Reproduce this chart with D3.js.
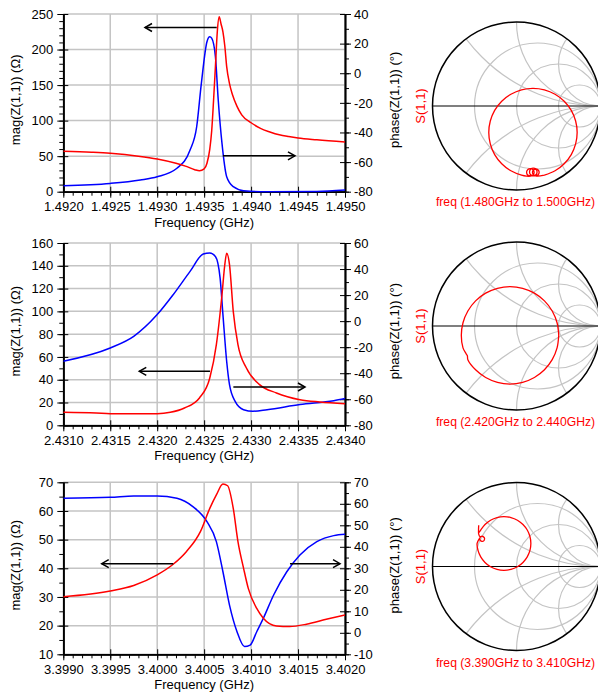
<!DOCTYPE html>
<html>
<head>
<meta charset="utf-8">
<script src="https://cdnjs.cloudflare.com/ajax/libs/d3/7.8.5/d3.min.js"></script>
<style>
  body { margin: 0; background: #fff; }
  svg { display: block; }
</style>
</head>
<body>
<svg id="chart" width="598" height="695"></svg>
<script>
// ---- top panel (1.492 - 1.495 GHz)
var topFreqTicks = [1.4920, 1.4925, 1.4930, 1.4935, 1.4940, 1.4945, 1.4950];
var topMagTicks = [0, 50, 100, 150, 200, 250];
var topPhaseTicks = [-80, -60, -40, -20, 0, 20, 40];
var topMagFreq = [1.4920, 1.4923, 1.4925, 1.4928, 1.4930, 1.4932, 1.4933, 1.4934, 1.49345, 1.4935, 1.49353, 1.49356, 1.49358, 1.4936, 1.49362, 1.49364, 1.49366, 1.49368, 1.4937, 1.49372, 1.49374, 1.49377, 1.4938, 1.49385, 1.4939, 1.4940, 1.4941, 1.4942, 1.4943, 1.4944, 1.4945, 1.4947, 1.4950];
var topMag = [57, 55.5, 54, 50, 46, 40, 36, 31, 29.5, 32, 40, 60, 85, 128, 176, 225, 246, 236, 225, 205, 176, 152, 137, 120, 108, 97, 89, 84, 80, 77.5, 75.5, 73, 70];
var topPhaseFreq = [1.4920, 1.4925, 1.49282, 1.4930, 1.49321, 1.49335, 1.49342, 1.49347, 1.49353, 1.49356, 1.49358, 1.49362, 1.49365, 1.49369, 1.49374, 1.49381, 1.49392, 1.49417, 1.4947, 1.4950];
var topPhase = [-76, -74.4, -72.1, -69.9, -64.2, -51.9, -36.3, -7, 21.3, 24.6, 23.7, 11.2, -18.1, -47.4, -69.9, -76.6, -79.3, -80, -79.8, -78.9];
var topArrows = [[1.493634, 231, 1.49287], [1.49370, 50.5, 1.494467]];
var topSmithRe = [0.332, 0.459, 0.568, 0.652, 0.704, 0.722, 0.704, 0.652, 0.568, 0.459, 0.332, 0.196, 0.060, -0.067, -0.176, -0.260, -0.312, -0.330, -0.312, -0.260, -0.176, -0.067, 0.060,
  0.12, 0.165, 0.197, 0.21, 0.197, 0.165, 0.133, 0.12, 0.133,
  0.20, 0.232, 0.245, 0.232, 0.20, 0.168, 0.155, 0.168,
  0.23, 0.258, 0.27, 0.258, 0.23, 0.202, 0.19, 0.202, 0.24, 0.332];
var topSmithIm = [-0.823, -0.771, -0.687, -0.578, -0.451, -0.315, -0.179, -0.052, 0.057, 0.140, 0.193, 0.211, 0.193, 0.140, 0.057, -0.052, -0.179, -0.315, -0.451, -0.578, -0.687, -0.771, -0.823,
  -0.835, -0.835, -0.822, -0.79, -0.758, -0.745, -0.758, -0.79, -0.822,
  -0.83, -0.817, -0.785, -0.753, -0.74, -0.753, -0.785, -0.817,
  -0.83, -0.818, -0.79, -0.762, -0.75, -0.762, -0.79, -0.818, -0.835, -0.823];
var topSweep = "freq (1.480GHz to 1.500GHz)";

// ---- middle panel (2.431 - 2.434 GHz)
var midFreqTicks = [2.4310, 2.4315, 2.4320, 2.4325, 2.4330, 2.4335, 2.4340];
var midMagTicks = [0, 20, 40, 60, 80, 100, 120, 140, 160];
var midPhaseTicks = [-80, -60, -40, -20, 0, 20, 40, 60];
var midMagFreq = [2.4310, 2.43135, 2.4315, 2.4320, 2.43214, 2.43229, 2.43245, 2.43256, 2.43263, 2.43269, 2.43272, 2.43274, 2.43277, 2.43281, 2.43286, 2.43295, 2.43309, 2.43327, 2.43352, 2.43373, 2.4340];
var midMag = [11.4, 10.8, 10.2, 10.2, 11.4, 15.2, 24, 41.5, 70.8, 114.6, 141, 151, 141, 100, 70.8, 50.3, 35.7, 28.4, 22.5, 20.5, 19];
var midPhaseFreq = [2.4310, 2.4315, 2.43175, 2.4320, 2.43217, 2.43235, 2.43249, 2.43256, 2.43262, 2.43267, 2.43270, 2.43274, 2.43277, 2.43283, 2.43292, 2.43302, 2.43317, 2.43352, 2.43388, 2.4340];
var midPhase = [-30.8, -20.6, -11.7, 5, 20.3, 38.2, 51.5, 52.3, 49.6, 33, 5, -31, -48.8, -61.6, -68, -69.2, -68, -64.1, -61.1, -59.5];
var midArrows = [[2.432562, 47.4, 2.431809], [2.432811, 33.6, 2.433574]];
var midSmithRe = [0.503, 0.483, 0.425, 0.333, 0.213, 0.073, -0.077, -0.227, -0.367, -0.487, -0.579, -0.637, -0.657, -0.637, -0.600, -0.585, -0.579, -0.487, -0.367, -0.227, -0.077, 0.073, 0.213, 0.333, 0.425, 0.483, 0.503];
var midSmithIm = [-0.111, 0.039, 0.179, 0.299, 0.391, 0.449, 0.469, 0.449, 0.391, 0.299, 0.179, 0.039, -0.111, -0.261, -0.330, -0.355, -0.401, -0.521, -0.613, -0.671, -0.691, -0.671, -0.613, -0.521, -0.401, -0.261, -0.111];
var midSweep = "freq (2.420GHz to 2.440GHz)";

// ---- bottom panel (3.399 - 3.402 GHz)
var botFreqTicks = [3.3990, 3.3995, 3.4000, 3.4005, 3.4010, 3.4015, 3.4020];
var botMagTicks = [10, 20, 30, 40, 50, 60, 70];
var botPhaseTicks = [-10, 0, 10, 20, 30, 40, 50, 60, 70];
var botMagFreq = [3.3990, 3.3995, 3.39975, 3.4000, 3.40017, 3.40031, 3.40046, 3.40056, 3.40063, 3.40070, 3.40075, 3.40081, 3.40086, 3.40092, 3.40097, 3.40106, 3.40113, 3.40127, 3.40141, 3.40159, 3.40180, 3.4020];
var botMag = [30.1, 32.1, 34, 37.7, 41.4, 45.8, 52.8, 60.9, 65.6, 69.4, 68.8, 60.9, 49.3, 40, 33, 26, 22.6, 19.9, 19.7, 20.5, 22.2, 23.7];
var botPhaseFreq = [3.3990, 3.3995, 3.39975, 3.4000, 3.40021, 3.40038, 3.40053, 3.40063, 3.40070, 3.40077, 3.40085, 3.40093, 3.40099, 3.40106, 3.40113, 3.40124, 3.40138, 3.40152, 3.40170, 3.40188, 3.4020];
var botPhase = [62.6, 63, 63.6, 63.6, 62.6, 58.7, 51.7, 42.4, 28.4, 12.9, 0.5, -6.4, -5.7, 0.5, 6.7, 17.6, 28.4, 36.2, 42.4, 45.2, 45.8];
var botArrows = [[3.400171, 41.6, 3.399409], [3.401414, 41.6, 3.401947]];
var botSmithRe = [-0.450, -0.452, -0.450, -0.435, -0.410, -0.385, -0.380, -0.390, -0.410, -0.430, -0.440, -0.430, -0.469, -0.458, -0.426, -0.375, -0.309, -0.232, -0.149, -0.066, 0.011, 0.077, 0.128, 0.160, 0.171, 0.160, 0.128, 0.077, 0.011, -0.066, -0.149, -0.232, -0.309, -0.375, -0.426, -0.445];
var botSmithIm = [0.490, 0.430, 0.385, 0.355, 0.360, 0.345, 0.330, 0.305, 0.300, 0.310, 0.330, 0.350, 0.274, 0.191, 0.114, 0.048, -0.003, -0.035, -0.046, -0.035, -0.003, 0.048, 0.114, 0.191, 0.274, 0.357, 0.434, 0.500, 0.551, 0.583, 0.594, 0.583, 0.551, 0.500, 0.434, 0.405];
var botSweep = "freq (3.390GHz to 3.410GHz)";

// Smith chart grid: resistance circles and reactance arcs
var smithR = [1 / 3, 1, 3];
var smithX = [0.5, 1, 2, -0.5, -1, -2];

var Charts = (function() {

  var svg = d3.select("#chart");
  var font = "'Liberation Sans', Arial, Helvetica, sans-serif";
  var gridColor = "#c4c4c4";

  var zip = function(xs, ys) {
    return xs.map(function(x, i) { return [x, ys[i]]; });
  };

  var styleAxis = function(sel) {
    sel.attr("font-family", font).attr("font-size", 13);
    sel.select(".domain").attr("stroke", "#000").attr("stroke-width", 1.5);
    sel.selectAll(".tick line").attr("stroke", "#000").attr("stroke-width", 1);
    sel.selectAll(".tick text").attr("fill", "#000");
  };

  // major ticks cross the axis line: outer part with labels, inner part without
  var addAxis = function(g, axisFn, scale, pos, values, outer, inner, pad, fmt) {
    var t = axisFn === d3.axisBottom ? "translate(0," + pos + ")" : "translate(" + pos + ",0)";
    if (inner) {
      g.append("g").attr("transform", t)
        .call(axisFn(scale).tickValues(values).tickSize(-inner).tickSizeOuter(0).tickFormat(""))
        .call(styleAxis);
    }
    g.append("g").attr("transform", t)
      .call(axisFn(scale).tickValues(values).tickSize(outer).tickSizeOuter(0).tickPadding(pad)
        .tickFormat(fmt || ""))
      .call(styleAxis);
  };

  var rectPlot = function(p) {
    var x = d3.scaleLinear().domain(d3.extent(p.freqTicks)).range([p.left, p.right]);
    var yL = d3.scaleLinear().domain(d3.extent(p.magTicks)).range([p.bottom, p.top]);
    var yR = d3.scaleLinear().domain(d3.extent(p.phaseTicks)).range([p.bottom, p.top]);
    var g = svg.append("g");

    // grid
    g.append("g").selectAll("line")
      .data(p.freqTicks)
      .enter()
      .append("line")
      .attr("x1", x).attr("x2", x)
      .attr("y1", p.top).attr("y2", p.bottom)
      .attr("stroke", gridColor).attr("stroke-width", 1.5);
    g.append("g").selectAll("line")
      .data(p.magTicks)
      .enter()
      .append("line")
      .attr("x1", p.left).attr("x2", p.right)
      .attr("y1", yL).attr("y2", yL)
      .attr("stroke", gridColor).attr("stroke-width", 1.5);

    // axes
    var dx = p.freqTicks[1] - p.freqTicks[0];
    var minorX = d3.range(0, 31).map(function(i) { return x.domain()[0] + i * dx / 5; });
    var minorL = d3.range(yL.domain()[0], yL.domain()[1] + 1e-9, p.magMinor);
    var minorR = d3.range(yR.domain()[0], yR.domain()[1] + 1e-9, p.phaseMinor);
    var num = function(d) { return String(d); };

    addAxis(g, d3.axisBottom, x, p.bottom, minorX, 4, 0, 0);
    addAxis(g, d3.axisBottom, x, p.bottom, p.freqTicks, 6, 5, 4, d3.format(".4f"));
    addAxis(g, d3.axisLeft, yL, p.left, minorL, 4, 0, 0);
    addAxis(g, d3.axisLeft, yL, p.left, p.magTicks, 6, 5, 4, num);
    addAxis(g, d3.axisRight, yR, p.right, minorR, 4, 0, 0);
    addAxis(g, d3.axisRight, yR, p.right, p.phaseTicks, 6, 5, 3, num);

    // curves
    var clipId = "clip-" + p.id;
    svg.append("clipPath").attr("id", clipId)
      .append("rect")
      .attr("x", p.left).attr("y", p.top - 1)
      .attr("width", p.right - p.left).attr("height", p.bottom - p.top + 2);

    var lineL = d3.line()
      .x(function(d) { return x(d[0]); })
      .y(function(d) { return yL(d[1]); })
      .curve(d3.curveMonotoneX);
    var lineR = d3.line()
      .x(function(d) { return x(d[0]); })
      .y(function(d) { return yR(d[1]); })
      .curve(d3.curveMonotoneX);

    var curves = g.append("g").attr("clip-path", "url(#" + clipId + ")");
    curves.append("path")
      .datum(p.phase)
      .attr("d", lineR)
      .attr("fill", "none").attr("stroke", "#0000ff").attr("stroke-width", 1.5);
    curves.append("path")
      .datum(p.mag)
      .attr("d", lineL)
      .attr("fill", "none").attr("stroke", "#ff0000").attr("stroke-width", 1.5);

    // arrows (in frequency / left-axis units)
    var arrows = g.append("g").attr("stroke", "#000").attr("fill", "none").attr("stroke-width", 1.5);
    p.arrows.forEach(function(a) {
      var x1 = x(a[0]), x2 = x(a[2]), y = yL(a[1]);
      var s = x2 > x1 ? -1 : 1;
      arrows.append("line").attr("x1", x1).attr("x2", x2).attr("y1", y).attr("y2", y);
      arrows.append("path")
        .attr("d", "M" + (x2 + s * 7) + "," + (y - 4) + "L" + x2 + "," + y + "L" + (x2 + s * 7) + "," + (y + 4));
    });

    // titles
    var midY = (p.top + p.bottom) / 2 - 3;
    g.append("text")
      .text("Frequency (GHz)")
      .attr("x", (p.left + p.right) / 2).attr("y", p.bottom + 35)
      .attr("text-anchor", "middle")
      .attr("font-family", font).attr("font-size", 13);
    g.append("text")
      .text("mag(Z(1,1)) (\u03a9)")
      .attr("transform", "translate(20," + midY + ") rotate(-90)")
      .attr("text-anchor", "middle")
      .attr("font-family", font).attr("font-size", 13);
    g.append("text")
      .text("phase(Z(1,1)) (\u00b0)")
      .attr("transform", "translate(399," + midY + ") rotate(-90)")
      .attr("text-anchor", "middle")
      .attr("font-family", font).attr("font-size", 13);
  };

  var smith = function(s) {
    var u = d3.scaleLinear().domain([-1, 1]).range([s.cx - s.r, s.cx + s.r]);
    var v = d3.scaleLinear().domain([-1, 1]).range([s.cy + s.r, s.cy - s.r]);
    var k = s.r;
    var g = svg.append("g");
    var clipId = "smith-" + s.id;

    svg.append("clipPath").attr("id", clipId)
      .append("circle").attr("cx", u(0)).attr("cy", v(0)).attr("r", k);

    var grid = g.append("g")
      .attr("clip-path", "url(#" + clipId + ")")
      .attr("fill", "none").attr("stroke", gridColor).attr("stroke-width", 1.2);
    grid.selectAll(".rc")
      .data(smithR)
      .enter()
      .append("circle")
      .attr("cx", function(d) { return u(d / (1 + d)); })
      .attr("cy", v(0))
      .attr("r", function(d) { return k / (1 + d); });
    grid.selectAll(".xc")
      .data(smithX)
      .enter()
      .append("circle")
      .attr("cx", u(1))
      .attr("cy", function(d) { return v(1 / d); })
      .attr("r", function(d) { return k / Math.abs(d); });

    g.append("line")
      .attr("x1", u(-1)).attr("x2", u(1))
      .attr("y1", v(0)).attr("y2", v(0))
      .attr("stroke", "#000").attr("stroke-width", 1.2);
    g.append("circle")
      .attr("cx", u(0)).attr("cy", v(0)).attr("r", k)
      .attr("fill", "none").attr("stroke", "#000").attr("stroke-width", 1.5);

    var trace = d3.line()
      .x(function(d) { return u(d[0]); })
      .y(function(d) { return v(d[1]); })
      .curve(d3.curveCatmullRom);
    g.append("path")
      .datum(s.points)
      .attr("d", trace)
      .attr("fill", "none").attr("stroke", "#ff0000").attr("stroke-width", 1.3);

    g.append("text")
      .text("S(1,1)")
      .attr("transform", "translate(" + (s.cx - s.r - 8) + "," + s.cy + ") rotate(-90)")
      .attr("text-anchor", "middle")
      .attr("fill", "#ff0000")
      .attr("font-family", font).attr("font-size", 13);
    g.append("text")
      .text(s.sweep)
      .attr("x", s.cx - 1).attr("y", s.cy + 100)
      .attr("text-anchor", "middle")
      .attr("fill", "#ff0000")
      .attr("font-family", font).attr("font-size", 12.2);
  };

  return {
    zip: zip,
    rectPlot: rectPlot,
    smith: smith
  };
})();

var panels = [
  { id: "top", top: 14, bottom: 191.7, freqTicks: topFreqTicks, magTicks: topMagTicks, phaseTicks: topPhaseTicks,
    magMinor: 10, phaseMinor: 10, mag: Charts.zip(topMagFreq, topMag), phase: Charts.zip(topPhaseFreq, topPhase),
    arrows: topArrows, cy: 106, smithRe: topSmithRe, smithIm: topSmithIm, sweep: topSweep },
  { id: "mid", top: 243, bottom: 425.3, freqTicks: midFreqTicks, magTicks: midMagTicks, phaseTicks: midPhaseTicks,
    magMinor: 10, phaseMinor: 10, mag: Charts.zip(midMagFreq, midMag), phase: Charts.zip(midPhaseFreq, midPhase),
    arrows: midArrows, cy: 326, smithRe: midSmithRe, smithIm: midSmithIm, sweep: midSweep },
  { id: "bot", top: 482.3, bottom: 654.3, freqTicks: botFreqTicks, magTicks: botMagTicks, phaseTicks: botPhaseTicks,
    magMinor: 5, phaseMinor: 5, mag: Charts.zip(botMagFreq, botMag), phase: Charts.zip(botPhaseFreq, botPhase),
    arrows: botArrows, cy: 566.5, smithRe: botSmithRe, smithIm: botSmithIm, sweep: botSweep }
];

panels.forEach(function(p) {
  p.left = 63.3;
  p.right = 345;
  Charts.rectPlot(p);
  Charts.smith({ id: p.id, cx: 516.5, cy: p.cy, r: 84, points: Charts.zip(p.smithRe, p.smithIm), sweep: p.sweep });
});
</script>
</body>
</html>
